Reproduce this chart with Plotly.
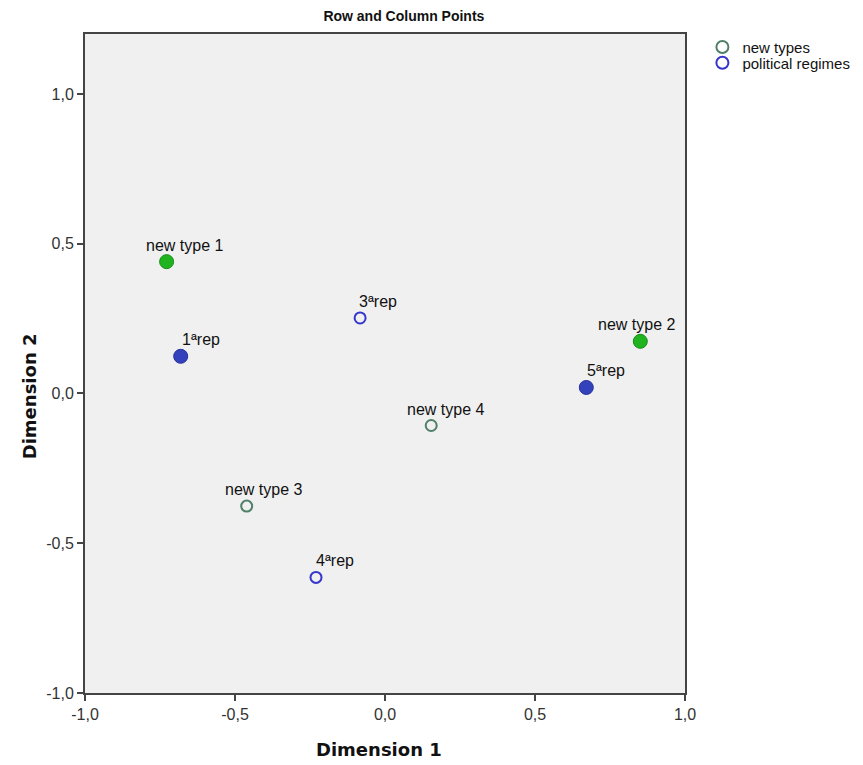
import plotly.graph_objects as go

# Data
type_labels = ["new type 1", "new type 2", "new type 3", "new type 4"]
type_dim1 = [-0.728, 0.851, -0.461, 0.154]
type_dim2 = [0.440, 0.174, -0.376, -0.107]

regime_labels = ["1ªrep", "3ªrep", "4ªrep", "5ªrep"]
regime_dim1 = [-0.681, -0.083, -0.230, 0.671]
regime_dim2 = [0.124, 0.252, -0.614, 0.020]

x_ticks = [-1.0, -0.5, 0.0, 0.5, 1.0]
x_ticktext = ["-1,0", "-0,5", "0,0", "0,5", "1,0"]
y_ticks = [-1.0, -0.5, 0.0, 0.5, 1.0]
y_ticktext = ["-1,0", "-0,5", "0,0", "0,5", "1,0"]

# Styles (filled = highlighted points)
type_filled = [True, True, False, False]
regime_filled = [True, False, False, True]
type_label_shift = [-23, -44, -24, -26]
regime_label_shift = [-1, -3, -2, -1]

GREEN_FILL = "#1fb41f"
GREEN_LINE = "#168a16"
GREEN_OPEN = "#4f8068"
BLUE_FILL = "#3441bd"
BLUE_LINE = "#26309a"
BLUE_OPEN = "#3535cc"

FONT = "Liberation Sans, Arial"

fig = go.Figure()


def add_series(xs, ys, filled, fill_c, line_c, open_c):
    syms = ["circle" if f else "circle-open" for f in filled]
    cols = [fill_c if f else open_c for f in filled]
    sizes = [14 if f else 11 for f in filled]
    fig.add_trace(go.Scatter(
        x=xs, y=ys, mode="markers", showlegend=False,
        marker=dict(symbol=syms, color=cols, size=sizes, opacity=1,
                    line=dict(color=[line_c if f else open_c for f in filled],
                              width=[1 if f else 2 for f in filled])),
        hoverinfo="skip"))


add_series(type_dim1, type_dim2, type_filled, GREEN_FILL, GREEN_LINE, GREEN_OPEN)
add_series(regime_dim1, regime_dim2, regime_filled, BLUE_FILL, BLUE_LINE, BLUE_OPEN)

# legend entries (two legends so their spacing can be set)
fig.add_trace(go.Scatter(x=[None], y=[None], mode="markers", name="new types", legend="legend",
                         marker=dict(symbol="circle-open", color=GREEN_OPEN, size=12, line=dict(width=2))))
fig.add_trace(go.Scatter(x=[None], y=[None], mode="markers", name="political regimes", legend="legend2",
                         marker=dict(symbol="circle-open", color=BLUE_OPEN, size=12, line=dict(width=2))))

label_font = dict(family=FONT, size=16, color="#111111")
for lab, x, y, s in zip(type_labels + regime_labels, type_dim1 + regime_dim1,
                        type_dim2 + regime_dim2, type_label_shift + regime_label_shift):
    fig.add_annotation(x=x, y=y, text=lab, showarrow=False, xanchor="left", yanchor="bottom",
                       xshift=s, yshift=6, font=label_font)

axis_common = dict(showgrid=False, zeroline=False, showline=True, linecolor="#444444", linewidth=2,
                   mirror=True, ticks="outside", ticklen=6, tickcolor="#444444", tickwidth=1.5,
                   tickfont=dict(family=FONT, size=16, color="#333333"))

fig.update_xaxes(range=[-1.0, 1.0], tickvals=x_ticks, ticktext=x_ticktext, **axis_common)
fig.update_yaxes(range=[-1.0, 1.2], tickvals=y_ticks, ticktext=y_ticktext, **axis_common)

fig.add_annotation(text="<b>Dimension 1</b>", xref="paper", yref="paper", x=0.49, y=-0.085,
                   xanchor="center", yanchor="middle", showarrow=False,
                   font=dict(family="DejaVu Sans, Liberation Sans", size=18, color="#111111"))
fig.add_annotation(text="<b>Dimension 2</b>", xref="paper", yref="paper", x=-0.092, y=0.45,
                   xanchor="center", yanchor="middle", showarrow=False, textangle=-90,
                   font=dict(family="DejaVu Sans, Liberation Sans", size=18, color="#111111"))

legend_common = dict(xanchor="left", yanchor="middle", bgcolor="rgba(0,0,0,0)",
                     font=dict(family=FONT, size=15, color="#111111"), itemwidth=30)

fig.update_layout(
    width=863, height=765,
    margin=dict(l=85, r=178, t=34, b=72, autoexpand=False),
    paper_bgcolor="white", plot_bgcolor="#f0f0f0",
    separators=",.",
    title=dict(text="<b>Row and Column Points</b>", x=0.468, xanchor="center", y=0.985, yanchor="top",
               font=dict(family=FONT, size=14, color="#111111")),
    legend=dict(x=1.029, y=0.980, **legend_common),
    legend2=dict(x=1.029, y=0.956, **legend_common),
    showlegend=True,
)

fig.write_html("out.html")
